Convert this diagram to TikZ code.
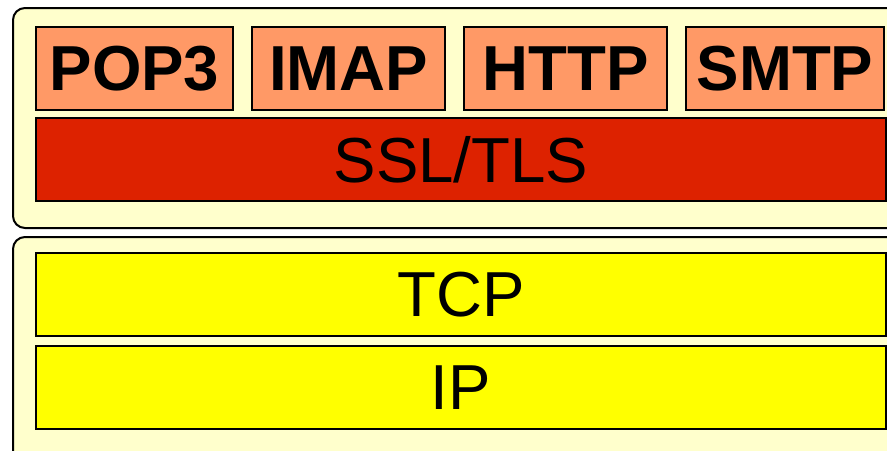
\documentclass[tikz,border=0pt]{standalone}
\usepackage{fontspec}
\setmainfont{Liberation Sans}
\usetikzlibrary{positioning}

\definecolor{panelbg}{HTML}{FFFFCC}
\definecolor{appfill}{HTML}{FF9966}
\definecolor{sslfill}{HTML}{DD2200}
\definecolor{netfill}{HTML}{FFFF00}

\tikzset{
  panel/.style={draw, line width=1pt, fill=panelbg, rounded corners=6pt},
  layer/.style={draw, line width=1pt, inner sep=0pt, minimum height=41.5pt,
                font=\fontsize{31.8}{36}\selectfont},
  app/.style={layer, fill=appfill, font=\fontsize{31.8}{36}\selectfont\bfseries},
  wide/.style={layer, minimum width=425pt},
}

\begin{document}
\begin{tikzpicture}[x=0.5pt, y=-0.5pt]
    \useasboundingbox (0,0) rectangle (887,450);
    \clip (0,0) rectangle (887,450);

    % Paineis
    \draw[panel] (13,8) rectangle (905,228);
    \draw[panel] (13,237) rectangle (905,480);

    % Aplicacoes
    \node[app, minimum width=98.5pt] (pop3) at (134.5,68.5) {POP3};
    \node[app, minimum width=96.5pt] (imap) at (348.5,68.5) {IMAP};
    \node[app, minimum width=101.5pt] (http) at (565.5,68.5) {HTTP};
    \node[app, minimum width=99pt]   (smtp) at (785,68.5) {SMTP};

    % Camadas
    \node[wide, fill=sslfill] (ssl) at (461,159.5) {SSL/TLS};
    \node[wide, fill=netfill] (tcp) at (461,294.5) {TCP};
    \node[wide, fill=netfill] (ip)  at (461,387.5) {IP};

\end{tikzpicture}
\end{document}
